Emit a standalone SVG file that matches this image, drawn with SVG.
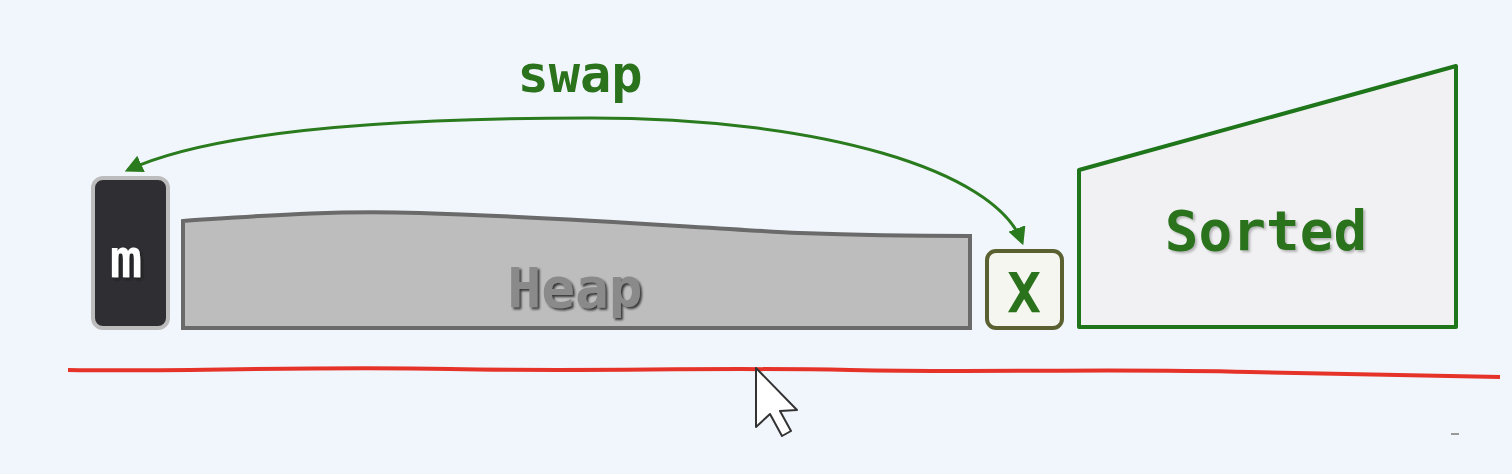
<svg xmlns="http://www.w3.org/2000/svg" width="1512" height="474" viewBox="0 0 1512 474">
<style>
.lbl{font-family:"DejaVu Sans Mono","Liberation Mono",monospace;font-weight:bold;text-anchor:middle}
.green{fill:#2a731c}
</style>
<defs>
<filter id="sh" x="-20%" y="-20%" width="140%" height="140%"><feDropShadow dx="2" dy="2" stdDeviation="1" flood-color="#222" flood-opacity="0.85"/></filter>
<filter id="sh2" x="-20%" y="-20%" width="140%" height="140%"><feDropShadow dx="2" dy="2" stdDeviation="1.2" flood-color="#444" flood-opacity="0.35"/></filter>
<marker id="ah" viewBox="0 0 10 10" refX="8" refY="5" markerWidth="6" markerHeight="6" orient="auto-start-reverse"><path d="M0,0 L10,5 L0,10 z" fill="#2a7a1e"/></marker>
</defs>
<rect width="1512" height="474" fill="#f1f5fc"/>
<g id="m">
<rect x="93" y="178" width="75" height="150" rx="10" fill="#2e2e33" stroke="#bcbcbc" stroke-width="4"/>
<text class="lbl" x="126" y="277" font-size="54" fill="#fff" filter="url(#sh)">m</text>
</g>
<g id="heap">
<path d="M183,221 C260,216 330,210 420,213 C560,217 700,228 800,233 C880,236 930,236 970,236 L970,328 L183,328 Z" fill="#bdbdbd" stroke="#6a6a6a" stroke-width="4"/>
<text class="lbl" x="575" y="307" font-size="56" fill="#8a8a8a" filter="url(#sh)">Heap</text>
</g>
<g id="x">
<rect x="987" y="251" width="75" height="77" rx="9" fill="#f5f6ef" stroke="#5a6030" stroke-width="4"/>
<text class="lbl green" x="1024" y="312" font-size="56">X</text>
</g>
<g id="sorted">
<path d="M1079,170 L1456,66 L1456,327 L1079,327 Z" fill="#f1f1f3" stroke="#1e751a" stroke-width="4" stroke-linejoin="round"/>
<text class="lbl green" x="1266" y="250" font-size="56" filter="url(#sh2)">Sorted</text>
</g>
<g id="connectors">
<path d="M1022,242 C995,170 820,118 590,118 C380,118 210,132 128,170" fill="none" stroke="#2a7a1e" stroke-width="3" marker-start="url(#ah)" marker-end="url(#ah)"/>
<text class="lbl green" x="580" y="92" font-size="52">swap</text>
</g>
<g id="redline">
<path d="M68,370 C200,372 300,366 450,369 C600,372 700,367 850,370 C1000,373 1100,368 1250,372 C1350,374 1430,376 1500,377" fill="none" stroke="#e63329" stroke-width="4"/>
</g>
<g id="cursor">
<path d="M756,368 L756,427 L770,414 L782,436 L791,431 L780,411 L797,410 Z" fill="#fff" stroke="#333" stroke-width="2" stroke-linejoin="round"/>
</g>
<line x1="1451" y1="434" x2="1459" y2="434" stroke="#999" stroke-width="2"/>
</svg>
